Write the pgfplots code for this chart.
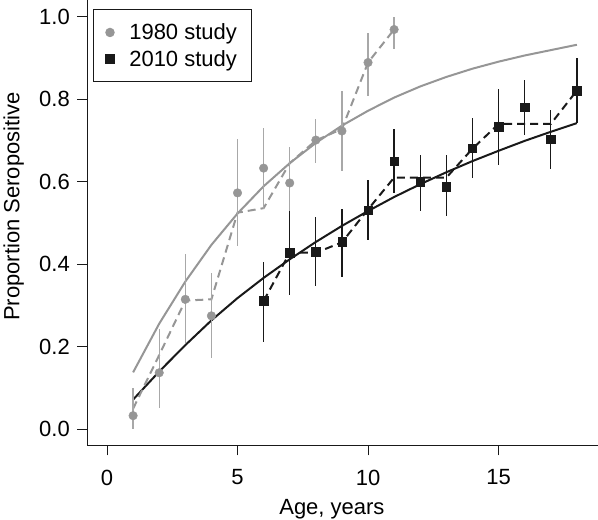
\documentclass[border=0pt]{standalone}
\usepackage{fontspec}
\setmainfont{Liberation Sans}
\usepackage{pgfplots}
\pgfplotsset{compat=1.18}
\usepackage{pgfplotstable}
\definecolor{g1}{RGB}{150,150,150}
\definecolor{g2}{RGB}{168,168,168}
\definecolor{k1}{RGB}{25,25,25}

% x  y  plus  minus
\pgfplotstableread{
x y ep em
1 0.033 0.067 0.033
2 0.137 0.105 0.086
3 0.315 0.110 0.107
4 0.275 0.103 0.103
5 0.573 0.130 0.129
6 0.633 0.097 0.100
7 0.597 0.088 0.087
8 0.701 0.050 0.056
9 0.723 0.097 0.098
10 0.889 0.072 0.081
11 0.969 0.031 0.047
}\oldstudy

\pgfplotstableread{
x y ep em
6 0.312 0.094 0.100
7 0.428 0.102 0.103
8 0.430 0.085 0.082
9 0.455 0.078 0.085
10 0.531 0.073 0.071
11 0.650 0.077 0.077
12 0.600 0.065 0.071
13 0.588 0.077 0.071
14 0.681 0.073 0.073
15 0.733 0.091 0.092
16 0.780 0.067 0.067
17 0.703 0.071 0.073
18 0.821 0.078 0.079
}\newstudy

\pgfplotstableread{
x y
1 0.050
2 0.180
3 0.312
4 0.315
5 0.525
6 0.536
7 0.645
8 0.700
9 0.728
10 0.889
11 0.969
}\olddash

\pgfplotstableread{
x y
6 0.311
7 0.428
8 0.428
9 0.453
10 0.533
11 0.610
12 0.610
13 0.610
14 0.680
15 0.740
16 0.740
17 0.740
18 0.821
}\newdash

\pgfplotstableread{
x y
1 0.138
2 0.256
3 0.358
4 0.447
5 0.523
6 0.589
7 0.645
8 0.694
9 0.736
10 0.772
11 0.804
12 0.831
13 0.854
14 0.874
15 0.891
16 0.906
17 0.919
18 0.932
}\oldfit

\pgfplotstableread{
x y
1 0.072
2 0.140
3 0.204
4 0.264
5 0.318
6 0.367
7 0.412
8 0.454
9 0.493
10 0.529
11 0.563
12 0.594
13 0.623
14 0.650
15 0.675
16 0.699
17 0.721
18 0.742
}\newfit

\begin{document}
\begin{tikzpicture}
\begin{axis}[
  name=ax,
  scale only axis,
  width=510.7pt, height=445.3pt,
  xmin=-0.755, xmax=18.81,
  ymin=-0.0388, ymax=1.0405,
  axis x line*=bottom, axis y line*=left,
  axis line style={line width=0.9pt, draw=k1},
  font=\fontsize{22}{26}\selectfont,
  xtick={0,5,10,15}, xticklabels={0,5,10,15},
  ytick={0,0.2,0.4,0.6,0.8,1.0},
  yticklabels={0.0,0.2,0.4,0.6,0.8,1.0},
  tick align=outside,
  major tick length=10pt,
  tick style={line width=0.9pt, draw=k1},
  xticklabel style={yshift=-11pt},
  yticklabel style={xshift=-4pt},
  xlabel={Age, years},
  ylabel={Proportion Seropositive},
  xlabel style={at={(axis description cs:0.479,-0.1565)}, anchor=base},
  ylabel style={at={(axis description cs:-0.1332,0.536)}, anchor=base},
  legend style={at={(axis description cs:0.01175,0.979)}, anchor=north west,
    draw=k1, line width=0.8pt, inner xsep=12pt, inner ysep=12pt,
    font=\fontsize{22}{26}\selectfont, row sep=5pt,
    /tikz/every odd column/.append style={column sep=13pt}},
  legend cell align=left,
]
\addlegendimage{only marks, mark=*, mark size=4.3pt, color=g1}
\addlegendentry{1980 study}
\addlegendimage{only marks, mark=square*, mark size=4.2pt, color=k1}
\addlegendentry{2010 study}

\addplot[forget plot, no marks, g1, line width=2pt] table[x=x,y=y]{\oldfit};
\addplot[forget plot, no marks, k1, line width=2pt] table[x=x,y=y]{\newfit};
\addplot[forget plot, no marks, g1, line width=2pt, dash pattern=on 8pt off 5pt] table[x=x,y=y]{\olddash};
\addplot[forget plot, no marks, k1, line width=2pt, dash pattern=on 8pt off 5pt] table[x=x,y=y]{\newdash};

\addplot[forget plot, only marks, mark=*, mark size=4.3pt, color=g1,
  error bars/.cd, y dir=both, y explicit, error mark=none,
  error bar style={draw=g2, line width=1.3pt}]
  table[x=x, y=y, y error plus=ep, y error minus=em]{\oldstudy};
\addplot[forget plot, only marks, mark=square*, mark size=4.2pt, color=k1,
  error bars/.cd, y dir=both, y explicit, error mark=none,
  error bar style={draw=k1, line width=1.3pt}]
  table[x=x, y=y, y error plus=ep, y error minus=em]{\newstudy};
\end{axis}
\pgfresetboundingbox
\useasboundingbox ([shift={(-87.3pt,-74.7pt)}]ax.south west) rectangle (ax.north east);
\end{tikzpicture}
\end{document}
